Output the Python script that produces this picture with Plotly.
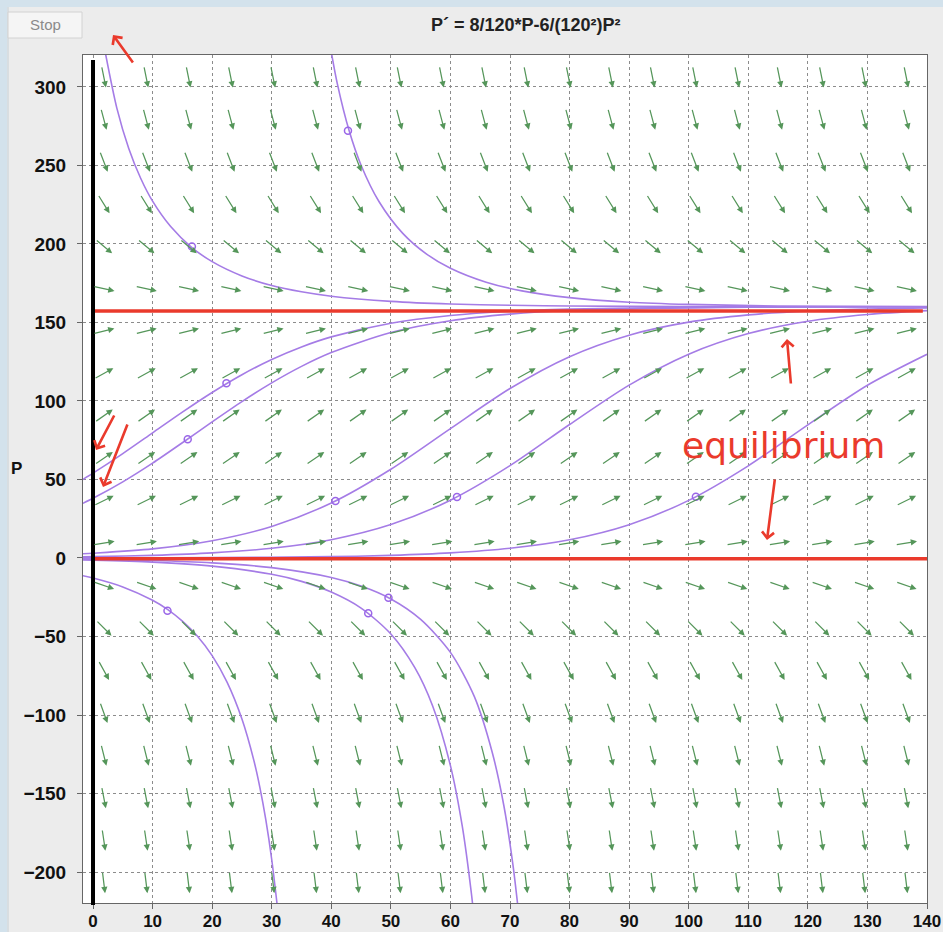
import math
import plotly.graph_objects as go

# ---------------- data ----------------
# slope-field grid (arrow centres) and per-row arrow angle (degrees on screen)
ARROW_T = [1.8, 8.9, 16.0, 23.1, 30.2, 37.3, 44.4, 51.4, 58.5, 65.6,
           72.7, 79.8, 86.9, 93.9, 101.0, 108.1, 115.2, 122.3, 129.4, 136.5]
ARROW_P = [-206.5, -179.5, -152.5, -125.5, -98.5, -71.5, -44.5, -17.5, 9.5, 36.5,
           63.5, 90.5, 117.5, 144.5, 171.5, 198.5, 225.5, 252.5, 279.5, 306.5]
ARROW_ANGLE = [-83, -81.5, -79, -76, -70, -61, -45, -19, 9, 26,
               34, 35, 29, 14, -12, -40, -58, -69, -75, -78.5]

# solution curves
CURVES = {
    "a": ([1.8, 4, 6, 8, 10, 13, 16.5, 20, 25, 30, 35, 40, 50, 60, 70, 80, 100, 120, 140],
          [327, 286.5, 260.8, 241.8, 227.2, 211.2, 198.0, 188.7, 179.6, 173.5, 169.5,
           166.7, 163.4, 161.7, 160.9, 160.5, 160.1, 160.0, 160.0]),
    "b": ([39.8, 41, 43, 45, 48, 52, 56, 60, 66, 72, 80, 90, 100, 115, 140],
          [326.4, 302.2, 272.0, 250.1, 227.0, 206.7, 193.5, 184.5, 175.6, 170.1,
           165.8, 162.9, 161.5, 160.5, 160.1]),
    "c": ([-1.7, 0, 5, 10, 15, 20, 25, 30, 35, 40, 50, 60, 70, 80, 100, 120, 140],
          [50.0, 54.0, 66.5, 79.7, 92.9, 105.4, 116.7, 126.4, 134.4, 140.8, 149.5,
           154.4, 157.1, 158.5, 159.6, 159.9, 160.0]),
    "d": ([-1.7, 0, 5, 10, 15, 20, 25, 30, 35, 40, 50, 60, 70, 80, 100, 120, 140],
          [34.8, 38.0, 48.5, 60.4, 73.4, 86.7, 99.6, 111.5, 122.0, 130.8, 143.6,
           151.1, 155.3, 157.6, 159.3, 159.8, 160.0]),
    "e": ([-1.7, 0, 10, 20, 30, 40, 50, 60, 70, 80, 90, 100, 110, 120, 130, 140],
          [2.7, 3.05, 5.8, 11.0, 20.1, 35.0, 56.5, 82.4, 107.9, 128.2, 141.9, 150.2,
           154.8, 157.3, 158.6, 159.3]),
    "f": ([-1.7, 0, 10, 20, 30, 40, 50, 60, 70, 80, 90, 100, 110, 120, 130, 140],
          [0.78, 0.87, 1.69, 3.25, 6.21, 11.67, 21.3, 36.8, 58.8, 85.0, 110.1, 129.8,
           142.9, 150.8, 155.1, 157.5]),
    "g": ([-1.7, 0, 20, 40, 50, 60, 70, 80, 90, 100, 110, 120, 130, 140],
          [0.05, 0.06, 0.23, 0.87, 1.68, 3.24, 6.19, 11.6, 21.2, 36.7, 58.7, 84.8,
           110.0, 129.7]),
    "h": ([-1.7, 0, 5, 10, 12.5, 15, 17.5, 20, 22.5, 25, 27, 28, 29, 30, 31],
          [-11.3, -12.75, -18.4, -26.9, -32.7, -40.2, -49.7, -62.2, -79.1, -102.6,
           -128.9, -145.9, -166.5, -192.0, -223.8]),
    "i": ([-1.7, 0, 10, 20, 30, 35, 40, 45, 50, 54, 57, 60, 62, 63.5, 64],
          [-1.19, -1.34, -2.64, -5.19, -10.4, -14.9, -21.7, -31.9, -48.4, -69.7,
           -94.1, -132.2, -171.1, -213, -230.5]),
    "j": ([-1.7, 0, 10, 20, 30, 40, 45, 50, 55, 60, 64, 67, 69, 70.5, 71.5],
          [-0.72, -0.80, -1.58, -3.10, -6.14, -12.4, -17.9, -26.1, -39.1, -60.1,
           -88.1, -123.5, -158.4, -195.6, -228]),
    "zero": ([-1.7, 140], [0, 0]),
}

# clicked initial points (small open circles)
MARK_T = [16.6, 42.8, 22.4, 15.9, 40.7, 61.1, 101.2, 12.5, 46.2, 49.6]
MARK_P = [198.3, 272.0, 111.3, 75.6, 36.3, 38.9, 39.0, -33.6, -35.2, -25.3]

# hand-drawn red equilibrium lines
RED_LINES = [([0, 139.3], [157.3, 157.3]), ([0, 140], [-0.5, -0.5])]

X_TICKS = list(range(0, 141, 10))
Y_TICKS = list(range(-200, 301, 50))
X_RANGE = [-1.68, 140]
Y_RANGE = [-219.7, 320.3]

# ---------------- layout geometry ----------------
W, H = 943, 932
ML, MR, MT, MB = 83, 16, 55, 29
PW, PH = W - ML - MR, H - MT - MB
SX = PW / (X_RANGE[1] - X_RANGE[0])
SY = PH / (Y_RANGE[1] - Y_RANGE[0])


def px(xp):
    return (xp - ML) / PW


def py(yp):
    return (H - MB - yp) / PH


PURPLE = "#a57ce6"
GREEN = "#55965a"
RED = "#ea3a2c"

fig = go.Figure()

for name, (ts, ps) in CURVES.items():
    fig.add_trace(go.Scatter(x=ts, y=ps, mode="lines",
                             line=dict(color=PURPLE, width=1.6, shape="spline", smoothing=0.8),
                             showlegend=False, hoverinfo="skip"))

for ts, ps in RED_LINES:
    fig.add_trace(go.Scatter(x=ts, y=ps, mode="lines", line=dict(color=RED, width=3.5),
                             showlegend=False, hoverinfo="skip"))

fig.add_trace(go.Scatter(x=MARK_T, y=MARK_P, mode="markers",
                         marker=dict(symbol="circle-open", size=7, color="#9a66e8",
                                     line=dict(width=1.5)),
                         showlegend=False, hoverinfo="skip"))

annotations = []
L = 22.0
for row, p in enumerate(ARROW_P):
    th = math.radians(ARROW_ANGLE[row])
    c, s = math.cos(th), math.sin(th)
    for t in ARROW_T:
        annotations.append(dict(
            x=t + 0.5 * L * c / SX, y=p + 0.5 * L * s / SY, xref="x", yref="y",
            ax=-L * c, ay=L * s, axref="pixel", ayref="pixel",
            text="", showarrow=True, arrowhead=2, arrowsize=1.0, arrowwidth=1.25,
            arrowcolor=GREEN, standoff=0, startstandoff=0))

# hand-drawn red arrows (pixel positions of the drawing)
red_arrows = [((113, 35), (21, 29)), ((96, 450), (19, -36)), ((103, 487), (25, -64)),
              ((787, 339), (4, 46)), ((767, 540), (8, -62))]
for (hx, hy), (dx, dy) in red_arrows:
    annotations.append(dict(x=px(hx), y=py(hy), xref="paper", yref="paper",
                            ax=dx, ay=dy, axref="pixel", ayref="pixel", text="",
                            showarrow=True, arrowhead=4, arrowsize=0.9, arrowwidth=2.6,
                            arrowcolor=RED))


def text_ann(xp, yp, text, font):
    return dict(x=px(xp), y=py(yp), xref="paper", yref="paper", text=text,
                showarrow=False, xanchor="center", yanchor="middle", font=font)


annotations.append(text_ann(783, 445, "equilibrium",
                            dict(family="DejaVu Sans", size=36, color=RED)))
annotations.append(text_ann(526, 25, "P\u00b4 = 8/120*P-6/(120\u00b2)P\u00b2",
                            dict(family="Liberation Sans", size=18, color="#222", weight="bold")))
annotations.append(text_ann(45, 25, "Stop",
                            dict(family="Liberation Sans", size=15, color="#8a8a8a")))
annotations.append(text_ann(16, 468, "P",
                            dict(family="Liberation Sans", size=17, color="#111", weight="bold")))

shapes = [
    # left and top textured page border
    dict(type="rect", xref="paper", yref="paper", x0=px(0), x1=px(7), y0=py(H), y1=py(0),
         fillcolor="#d3e2ec", line=dict(width=0), layer="below"),
    dict(type="rect", xref="paper", yref="paper", x0=px(0), x1=px(W), y0=py(7), y1=py(0),
         fillcolor="#d3e2ec", line=dict(width=0), layer="below"),
    dict(type="line", xref="paper", yref="paper", x0=px(8), x1=px(8), y0=py(H), y1=py(7),
         line=dict(color="#c4cfd6", width=1), layer="below"),
    # stop button
    dict(type="rect", xref="paper", yref="paper", x0=px(8), x1=px(82), y0=py(38), y1=py(12),
         fillcolor="#f5f5f5", line=dict(color="#d2d2d2", width=1), layer="below"),
    # hand-drawn black t=0 line
    dict(type="line", xref="x", yref="paper", x0=0, x1=0, y0=py(905), y1=py(60),
         line=dict(color="black", width=4)),
]

fig.update_layout(
    width=W, height=H, autosize=False,
    margin=dict(l=ML, r=MR, t=MT, b=MB),
    paper_bgcolor="#ececec", plot_bgcolor="white",
    annotations=annotations, shapes=shapes, showlegend=False,
    xaxis=dict(range=X_RANGE, tickvals=X_TICKS, showgrid=True, gridcolor="#8c8c8c",
               griddash="dot", gridwidth=1, zeroline=False, showline=True, mirror=True,
               linecolor="#666", linewidth=1, ticks="outside", ticklen=5, tickcolor="#666",
               automargin=False, ticklabelstandoff=-2,
               tickfont=dict(family="Liberation Sans", size=17, color="#111", weight="bold")),
    yaxis=dict(range=Y_RANGE, tickvals=Y_TICKS, showgrid=True, gridcolor="#8c8c8c",
               griddash="dot", gridwidth=1, zeroline=False, showline=True, mirror=True,
               linecolor="#666", linewidth=1, ticks="outside", ticklen=5, tickcolor="#666",
               ticklabelstandoff=7, automargin=False,
               tickfont=dict(family="Liberation Sans", size=19, color="#111", weight="bold")),
)

fig.write_html("out.html", config={"responsive": False, "displayModeBar": False},
               default_width=W, default_height=H)

# remove the browser's default page margin so the figure sits at the window origin
with open("out.html", encoding="utf-8") as fh:
    html = fh.read()
html = html.replace("<head>", "<head><style>html,body{margin:0;padding:0;overflow:hidden;}</style>", 1)
with open("out.html", "w", encoding="utf-8") as fh:
    fh.write(html)
